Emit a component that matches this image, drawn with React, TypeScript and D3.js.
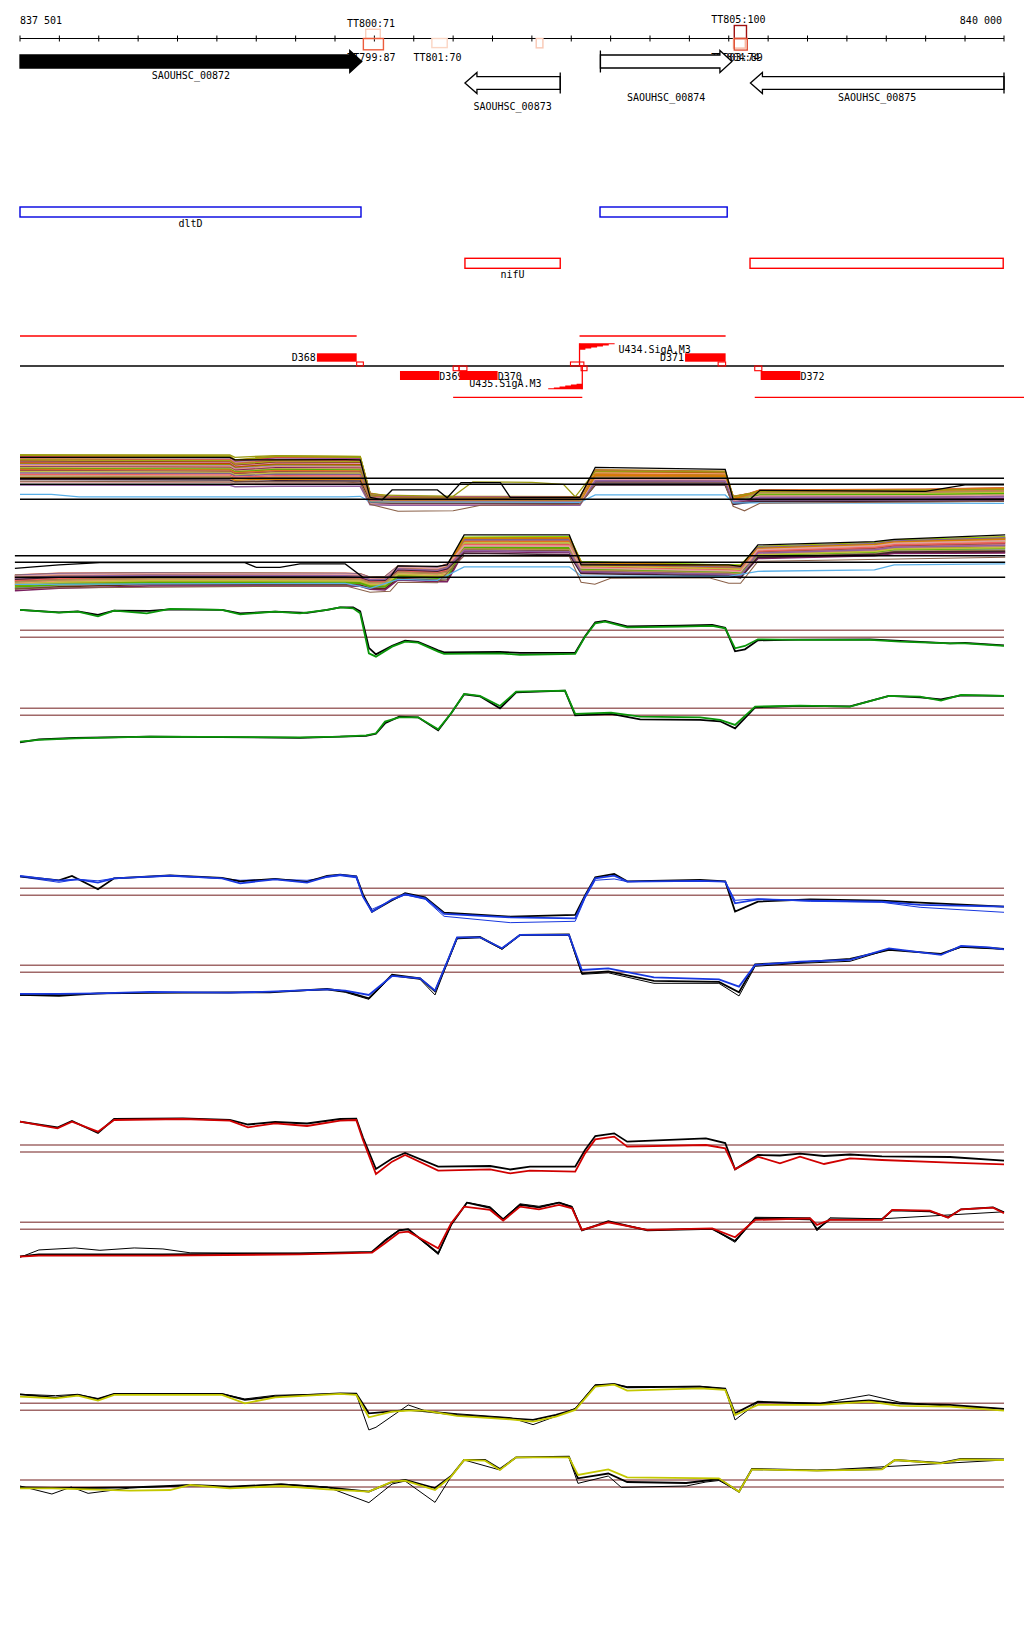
import React from 'react';
import * as d3 from 'd3';

// ================= DATA =================
// genomic window
const REGION_START = 837501;
const REGION_END = 840000;
const TICK_STEP = 100;
const AXIS_LABELS = ['837 501', '840 000'];

// genes (positions are bp offsets from REGION_START)
const GENE_NAMES = ['SAOUHSC_00872', 'SAOUHSC_00873', 'SAOUHSC_00874', 'SAOUHSC_00875'];
const GENE_START = [0, 1130, 1474, 1855];
const GENE_END = [868, 1372, 1808, 2499];
const GENE_STRAND = [1, -1, 1, -1];
const GENE_FILLED = [true, false, false, false];

// terminators
const TERM_NAMES = ['TT800:71', 'TT805:100', 'TT799:87', 'TT801:70', '', 'TT803:74', 'TT804:89'];
const TERM_START = [878, 1814, 872, 1046, 1311, 1812, 1814];
const TERM_END = [915, 1845, 923, 1085, 1328, 1842, 1847];
const TERM_SCORE = [71, 100, 87, 70, 72, 74, 89];
const TERM_SIDE = ['up', 'up', 'down', 'down', 'down', 'down', 'down'];

// annotated features
const BLUE_NAMES = ['dltD', ''];
const BLUE_START = [0, 1473];
const BLUE_END = [866, 1796];
const RED_NAMES = ['nifU', ''];
const RED_START = [1130, 1854];
const RED_END = [1372, 2497];

// transcription units / downstream features / promoters
const TU_START = [0, 1421, 1100, 1866];
const TU_END = [855, 1792, 1428, 2560];
const TU_STRAND = [1, 1, -1, -1];
const DF_NAMES = ['D368', 'D371', 'D369', 'D370', 'D372'];
const DF_START = [754, 1689, 965, 1116, 1881];
const DF_END = [855, 1792, 1065, 1213, 1982];
const DF_STRAND = [1, 1, -1, -1, -1];
const SITE_START = [855, 1398, 1773, 1100, 1115, 1425, 1866];
const SITE_END = [872, 1432, 1792, 1115, 1135, 1440, 1884];
const SITE_STRAND = [1, 1, 1, -1, -1, -1, -1];
const PROM_NAMES = ['U434.SigA.M3', 'U435.SigA.M3'];
const PROM_POS = [1421, 1428];
const PROM_LEN = [104, 101];
const PROM_STRAND = [1, -1];

// multi-condition bundles (envelope of the coloured profiles at shared positions)
const BUNDLE1_POS = [0, 533, 546, 650, 864, 889, 940, 1422, 1461, 1791, 1811, 1854, 1879, 2300, 2499];
const BUNDLE1_HI = [10.87, 10.67, 9.87, 10.67, 10.53, 3.2, 2.6, 2.5, 7.9, 7.6, 2.6, 3.2, 3.87, 4.0, 4.3];
const BUNDLE1_LO = [4.87, 4.8, 4.53, 4.6, 4.6, 0.9, 0.8, 0.8, 4.5, 4.53, 0.8, 1.2, 1.3, 1.3, 1.3];
const BUNDLE1_SEG = [0, 0, 0, 0, 0, 0, 0, 0, 1, 1, 1, 2, 2, 2, 2];
const BUNDLE2_POS = [-13, 99, 330, 826, 864, 889, 927, 960, 1060, 1085, 1128, 1395, 1425, 1800, 1830, 1874, 2170, 2220, 2502];
const BUNDLE2_HI = [2.47, 2.8, 2.93, 2.8, 2.7, 2.0, 2.13, 4.27, 4.0, 4.67, 10.0, 10.13, 5.13, 4.47, 4.47, 8.13, 8.93, 9.47, 10.13];
const BUNDLE2_LO = [-0.67, -0.2, 0.27, 0.27, 0.2, -0.4, -0.53, 1.47, 1.13, 1.13, 6.47, 6.13, 2.47, 2.0, 1.6, 5.47, 6.0, 6.47, 6.47];
const BUNDLE2_SEG = [0, 0, 0, 0, 0, 0, 0, 0, 0, 0, 1, 1, 1, 1, 1, 2, 2, 2, 2];
const BUNDLE_COLORS = ['#a8a000', '#c08a20', '#70c000', '#e0602a', '#a01a80', '#a898d0', '#c8a060', '#e05050', '#b07830', '#8ed000',
  '#d07040', '#603010', '#e090b0', '#c04000', '#909000', '#b080c0', '#f0a070', '#7a2060', '#d0b060', '#50b000',
  '#e07020', '#a05040', '#c0c040', '#806090', '#f06060', '#b09050', '#d08000', '#402030', '#e0a0a0', '#9060a0'];
// relative position of each condition inside the bundle, per plateau (left / middle / right)
const BUNDLE1_RANKS = [
  [1.0, 0.98, 0.96, 0.94, 0.92, 0.9, 0.88, 0.86, 0.84, 0.82, 0.8, 0.78, 0.76, 0.73, 0.7, 0.67, 0.64, 0.61, 0.58, 0.55, 0.52, 0.48, 0.44, 0.4, 0.35, 0.3, 0.24, 0.18, 0.1, 0.0],
  [0.9, 1.0, 0.84, 0.96, 0.7, 0.86, 0.94, 0.6, 0.98, 0.78, 0.92, 0.3, 0.8, 0.88, 0.76, 0.55, 0.82, 0.5, 0.66, 0.72, 0.74, 0.4, 0.62, 0.2, 0.64, 0.58, 0.68, 0.1, 0.45, 0.35],
  [0.7, 0.95, 0.6, 1.0, 0.3, 0.5, 0.85, 0.75, 0.9, 0.65, 0.98, 0.2, 0.4, 0.92, 0.55, 0.35, 0.88, 0.25, 0.8, 0.62, 0.96, 0.45, 0.72, 0.15, 0.82, 0.78, 0.93, 0.1, 0.52, 0.42],
];
const BUNDLE2_RANKS = [
  [0.52, 0.9, 0.3, 1.0, 0.76, 0.18, 0.64, 0.86, 0.44, 0.96, 0.7, 0.1, 0.82, 0.58, 0.35, 0.94, 0.48, 0.0, 0.78, 0.24, 0.88, 0.61, 0.4, 0.98, 0.67, 0.55, 0.84, 0.73, 0.92, 0.8],
  [0.95, 0.88, 0.98, 0.7, 0.6, 0.5, 0.9, 0.8, 0.75, 1.0, 0.85, 0.3, 0.65, 0.92, 0.4, 0.82, 0.55, 0.2, 0.72, 0.45, 0.78, 0.62, 0.68, 0.86, 0.58, 0.35, 0.94, 0.1, 0.52, 0.25],
  [0.85, 1.0, 0.75, 0.95, 0.55, 0.3, 0.9, 0.65, 0.8, 0.98, 0.7, 0.15, 0.6, 0.88, 0.45, 0.92, 0.5, 0.1, 0.72, 0.35, 0.82, 0.62, 0.4, 0.93, 0.68, 0.25, 0.87, 0.2, 0.78, 0.52],
];

const BUNDLE1_BLACK = [[0, 10.4], [533, 10.4], [546, 9.87], [826, 9.93], [864, 9.9], [889, 2.4], [920, 1.9], [945, 3.87], [1060, 3.87], [1085, 2.3], [1120, 5.33], [1220, 5.33], [1245, 2.4], [1422, 2.4], [1461, 8.4], [1791, 8.0], [1811, 2.0], [1854, 2.0], [1879, 3.8], [2300, 3.6], [2400, 4.9], [2499, 4.9]];
const BUNDLE1_OLIVE = [[0, 10.87], [533, 10.87], [546, 10.4], [650, 10.75], [864, 10.6], [889, 2.9], [1100, 2.6], [1150, 5.5], [1300, 5.4], [1380, 5.0], [1410, 2.5], [1461, 7.6], [1791, 7.5], [1811, 2.5], [1879, 3.6], [2499, 4.0]];
const BUNDLE1_BROWN = [[0, 5.6], [826, 5.4], [864, 5.3], [889, 1.0], [960, -0.4], [1100, -0.3], [1170, 0.8], [1422, 1.0], [1461, 5.0], [1791, 5.0], [1811, 0.6], [1840, -0.3], [1879, 1.2], [2499, 1.6]];
const BUNDLE1_SKY = [[0, 3.0], [80, 3.0], [150, 2.5], [826, 2.5], [864, 2.6], [889, 1.5], [1422, 1.4], [1461, 2.87], [1791, 2.87], [1811, 1.3], [1879, 1.3], [2499, 1.2]];
const BUNDLE2_BLACK = [[-13, 3.8], [99, 4.47], [203, 4.93], [571, 4.93], [600, 4.0], [660, 4.0], [711, 4.67], [826, 4.67], [871, 2.0], [940, 2.0], [960, 4.3], [1060, 4.2], [1085, 4.5], [1128, 10.47], [1395, 10.47], [1425, 4.5], [1800, 4.47], [1830, 4.2], [1874, 8.47], [2170, 9.13], [2220, 9.6], [2502, 10.47]];
const BUNDLE2_SKY = [[-13, 0.6], [826, 0.8], [889, -0.2], [960, 1.6], [1060, 1.4], [1128, 4.1], [1395, 4.1], [1425, 2.3], [1800, 2.2], [1874, 3.2], [2170, 3.47], [2220, 4.5], [2502, 4.67]];
const BUNDLE2_BROWN = [[-13, -0.2], [826, 0.3], [889, -1.0], [940, -0.8], [960, 1.0], [1060, 0.9], [1128, 6.3], [1395, 6.2], [1425, 1.0], [1460, 0.6], [1500, 1.8], [1750, 1.9], [1800, 0.8], [1830, 0.8], [1874, 5.2], [2502, 6.0]];

// single-condition signal tracks [bp offset, value]
const GREEN_A = [[0, 12.07], [99, 11.53], [147, 11.73], [198, 10.8], [239, 11.93], [322, 11.4], [381, 12.27], [513, 12.07], [559, 11.2], [648, 11.73], [711, 11.4], [780, 12.07], [813, 12.6], [846, 12.4], [864, 11.4], [886, 3.4], [904, 2.73], [945, 4.73], [978, 5.73], [1011, 5.53], [1062, 3.73], [1077, 3.27], [1219, 3.4], [1270, 3.07], [1410, 3.27], [1435, 6.73], [1461, 9.4], [1486, 9.73], [1542, 8.6], [1676, 8.73], [1758, 8.87], [1791, 8.4], [1816, 4.4], [1841, 4.87], [1874, 6.2], [1981, 6.07], [2159, 6.07], [2235, 5.73], [2362, 5.4], [2400, 5.4], [2499, 4.87]];
const GREEN_A_BLACK = [[0, 12.07], [99, 11.6], [147, 11.8], [198, 11.1], [239, 11.93], [330, 11.9], [381, 12.2], [513, 12.07], [559, 11.4], [648, 11.73], [729, 11.5], [780, 12.07], [813, 12.6], [846, 12.6], [864, 11.8], [886, 4.5], [904, 3.2], [945, 4.9], [978, 5.93], [1011, 5.7], [1062, 4.0], [1077, 3.6], [1219, 3.67], [1270, 3.5], [1410, 3.5], [1435, 6.8], [1461, 9.6], [1486, 9.9], [1542, 8.8], [1676, 8.93], [1758, 9.07], [1791, 8.5], [1816, 3.8], [1841, 4.2], [1874, 6.0], [1981, 6.13], [2159, 6.2], [2235, 5.9], [2362, 5.4], [2400, 5.5], [2499, 5.0]];
const GREEN_B = [[0, 1.33], [48, 1.67], [140, 2.0], [330, 2.33], [711, 2.2], [813, 2.33], [879, 2.6], [904, 3.0], [927, 5.33], [963, 6.2], [1011, 6.2], [1062, 3.8], [1095, 7.0], [1128, 10.87], [1168, 10.47], [1219, 8.47], [1260, 11.33], [1384, 11.53], [1410, 6.87], [1501, 7.13], [1575, 6.33], [1727, 6.2], [1778, 5.67], [1816, 4.67], [1867, 8.33], [1981, 8.53], [2108, 8.33], [2207, 10.47], [2286, 10.33], [2339, 9.53], [2390, 10.67], [2499, 10.47]];
const GREEN_B_BLACK = [[0, 1.2], [48, 1.8], [140, 2.07], [330, 2.33], [711, 2.1], [813, 2.33], [879, 2.5], [904, 2.9], [927, 5.0], [963, 6.33], [1011, 6.2], [1062, 3.6], [1095, 7.0], [1128, 10.8], [1168, 10.4], [1219, 8.0], [1260, 11.2], [1384, 11.53], [1410, 6.6], [1501, 6.87], [1575, 5.8], [1727, 5.67], [1778, 5.4], [1816, 4.0], [1867, 8.2], [1981, 8.5], [2108, 8.4], [2207, 10.47], [2286, 10.2], [2339, 9.8], [2390, 10.6], [2499, 10.5]];
const BLUE_A = [[0, 10.47], [99, 9.53], [147, 9.8], [198, 9.13], [239, 10.0], [381, 10.53], [513, 10.0], [559, 9.0], [648, 9.8], [729, 9.13], [780, 10.33], [813, 10.67], [854, 10.33], [871, 6.33], [894, 3.33], [945, 5.8], [978, 6.8], [1029, 6.0], [1077, 2.87], [1245, 2.2], [1410, 2.0], [1435, 6.33], [1461, 10.0], [1509, 10.53], [1542, 9.33], [1727, 9.47], [1791, 9.33], [1816, 5.0], [1874, 5.8], [2007, 5.53], [2189, 5.33], [2286, 4.67], [2499, 4.33]];
const BLUE_A_BLACK = [[0, 10.4], [99, 9.6], [132, 10.47], [198, 7.8], [239, 10.0], [381, 10.6], [513, 10.1], [559, 9.4], [648, 9.9], [729, 9.3], [780, 10.5], [813, 10.73], [854, 10.4], [871, 6.8], [894, 3.33], [945, 5.6], [978, 7.0], [1029, 6.2], [1077, 3.13], [1245, 2.33], [1410, 2.67], [1435, 6.6], [1461, 10.2], [1509, 10.87], [1542, 9.4], [1727, 9.67], [1791, 9.4], [1816, 3.33], [1874, 5.33], [2007, 5.8], [2189, 5.53], [2286, 5.13], [2499, 4.33]];
const BLUE_A_THIN = [[0, 10.3], [99, 9.2], [147, 9.8], [198, 9.5], [239, 10.0], [381, 10.4], [513, 10.0], [559, 9.6], [648, 9.8], [729, 9.6], [780, 10.2], [813, 10.53], [854, 10.1], [871, 6.5], [894, 3.8], [945, 5.6], [978, 6.7], [1029, 5.8], [1077, 2.4], [1245, 1.13], [1410, 1.4], [1435, 6.0], [1461, 9.6], [1509, 9.87], [1542, 9.33], [1727, 9.47], [1791, 9.33], [1816, 5.6], [1874, 5.9], [2007, 5.4], [2189, 5.2], [2286, 4.2], [2499, 3.2]];
const BLUE_B = [[0, 2.27], [99, 2.27], [198, 2.4], [330, 2.67], [533, 2.53], [635, 2.73], [780, 3.2], [826, 2.93], [886, 2.07], [945, 5.87], [1016, 5.4], [1054, 2.93], [1087, 9.07], [1110, 13.6], [1168, 13.6], [1224, 11.4], [1270, 14.07], [1394, 14.07], [1427, 7.07], [1494, 7.4], [1610, 5.6], [1775, 5.2], [1826, 3.73], [1867, 8.07], [1981, 8.73], [2108, 9.07], [2207, 11.4], [2339, 10.07], [2390, 11.87], [2461, 11.6], [2499, 11.2]];
const BLUE_B_BLACK = [[0, 2.07], [99, 1.9], [198, 2.4], [330, 2.5], [533, 2.6], [635, 2.6], [780, 3.3], [826, 2.8], [886, 1.4], [945, 6.1], [1016, 5.4], [1054, 2.8], [1087, 9.0], [1110, 13.5], [1168, 13.7], [1224, 11.3], [1270, 14.1], [1394, 14.2], [1427, 6.4], [1494, 6.8], [1610, 4.87], [1775, 4.67], [1826, 2.6], [1867, 8.2], [1981, 8.6], [2108, 9.3], [2207, 11.1], [2339, 10.3], [2390, 11.73], [2461, 11.47], [2499, 11.3]];
const BLUE_B_THIN = [[0, 2.0], [99, 2.2], [198, 2.3], [330, 2.6], [533, 2.5], [635, 2.7], [780, 3.1], [826, 2.6], [886, 1.2], [945, 5.9], [1016, 5.2], [1054, 2.07], [1087, 8.8], [1110, 13.3], [1168, 13.5], [1224, 11.2], [1270, 14.0], [1394, 14.0], [1427, 6.2], [1494, 6.5], [1610, 4.4], [1775, 4.4], [1826, 1.87], [1867, 7.8], [1981, 8.4], [2108, 8.8], [2207, 11.2], [2339, 10.2], [2390, 11.6], [2499, 11.2]];
const RED_A = [[0, 12.67], [95, 11.33], [132, 12.67], [198, 10.67], [239, 13.0], [414, 13.2], [533, 12.87], [579, 11.53], [648, 12.33], [729, 11.8], [813, 12.87], [854, 13.0], [871, 9.0], [904, 2.2], [945, 4.67], [978, 6.0], [1062, 2.87], [1194, 3.13], [1245, 2.33], [1295, 2.87], [1410, 2.67], [1435, 6.33], [1461, 9.13], [1509, 9.67], [1542, 7.67], [1742, 8.0], [1791, 7.33], [1816, 3.13], [1874, 5.67], [1930, 4.33], [1981, 5.67], [2042, 4.2], [2108, 5.33], [2189, 5.0], [2362, 4.47], [2499, 4.13]];
const RED_A_BLACK = [[0, 12.67], [95, 11.5], [132, 12.8], [198, 10.4], [239, 13.2], [414, 13.33], [533, 13.0], [579, 12.1], [648, 12.6], [729, 12.3], [813, 13.2], [854, 13.27], [871, 9.5], [904, 3.2], [945, 5.3], [978, 6.4], [1062, 3.67], [1194, 3.8], [1245, 3.1], [1295, 3.67], [1410, 3.67], [1435, 7.0], [1461, 9.8], [1509, 10.33], [1542, 8.67], [1742, 9.33], [1791, 8.4], [1816, 3.13], [1874, 6.0], [1930, 5.9], [1981, 6.27], [2042, 5.8], [2108, 6.1], [2189, 5.73], [2362, 5.6], [2499, 4.87]];
const RED_B = [[0, 1.13], [48, 1.33], [363, 1.33], [711, 1.6], [894, 1.93], [927, 3.8], [963, 5.93], [986, 6.13], [1062, 2.8], [1095, 7.8], [1128, 11.13], [1194, 10.47], [1227, 8.33], [1270, 11.13], [1318, 10.6], [1369, 11.47], [1402, 10.8], [1427, 6.47], [1494, 8.0], [1593, 6.47], [1758, 6.8], [1816, 5.0], [1867, 8.47], [2007, 8.8], [2024, 7.47], [2057, 8.47], [2189, 8.47], [2215, 10.47], [2311, 10.33], [2357, 8.93], [2390, 10.6], [2471, 10.93], [2499, 9.8]];
const RED_B_BLACK = [[0, 1.2], [48, 1.6], [363, 1.6], [711, 1.8], [894, 2.1], [927, 4.3], [963, 6.4], [986, 6.6], [1062, 1.8], [1095, 7.5], [1135, 11.93], [1194, 10.9], [1227, 8.6], [1270, 11.5], [1318, 11.0], [1369, 11.93], [1402, 11.0], [1427, 6.4], [1494, 8.2], [1593, 6.4], [1758, 6.67], [1816, 4.27], [1867, 8.8], [2007, 8.6], [2024, 6.6], [2057, 8.6], [2189, 8.6], [2215, 10.4], [2311, 10.2], [2357, 9.0], [2390, 10.6], [2471, 11.0], [2499, 10.0]];
const RED_B_THIN = [[0, 1.0], [48, 2.47], [140, 2.87], [203, 2.4], [290, 2.87], [363, 2.67], [432, 1.9], [711, 1.8], [894, 2.0], [927, 4.5], [963, 6.5], [986, 6.6], [1062, 1.6], [1095, 7.5], [1135, 12.0], [1194, 11.1], [1227, 8.7], [1270, 11.7], [1318, 11.2], [1369, 12.0], [1402, 11.2], [1427, 6.4], [1494, 8.1], [1593, 6.5], [1758, 6.7], [1816, 4.0], [1867, 9.0], [2007, 8.9], [2024, 6.3], [2057, 8.9], [2189, 8.7], [2499, 10.1]];
const YELLOW_A = [[0, 9.33], [90, 9.0], [147, 9.53], [198, 8.53], [239, 9.67], [513, 9.67], [571, 8.0], [648, 9.2], [813, 9.87], [854, 9.67], [886, 5.2], [945, 6.33], [986, 6.53], [1029, 6.53], [1110, 5.47], [1245, 4.8], [1303, 4.33], [1361, 5.33], [1410, 6.67], [1461, 11.33], [1509, 11.73], [1542, 10.53], [1727, 11.0], [1791, 10.67], [1816, 5.67], [1874, 7.67], [2032, 7.67], [2156, 8.33], [2235, 7.47], [2362, 7.33], [2499, 6.53]];
const YELLOW_A_BLACK = [[0, 9.8], [90, 9.13], [147, 9.67], [198, 8.87], [239, 9.87], [513, 9.87], [571, 8.67], [648, 9.4], [813, 10.0], [854, 9.93], [886, 6.0], [945, 6.4], [986, 6.67], [1029, 6.4], [1110, 5.7], [1245, 5.0], [1303, 4.67], [1361, 5.67], [1410, 6.8], [1461, 11.6], [1509, 11.87], [1542, 11.2], [1727, 11.33], [1791, 10.93], [1816, 6.0], [1874, 8.33], [2032, 7.93], [2156, 8.6], [2235, 7.93], [2362, 7.67], [2499, 6.87]];
const YELLOW_A_THIN = [[0, 9.8], [90, 9.53], [147, 9.8], [198, 8.87], [239, 9.87], [513, 9.9], [571, 8.87], [648, 9.6], [813, 9.9], [854, 9.8], [886, 2.67], [904, 3.2], [986, 7.67], [1029, 6.5], [1110, 5.9], [1245, 5.13], [1303, 3.73], [1361, 5.4], [1410, 7.0], [1461, 11.7], [1509, 11.8], [1542, 11.33], [1727, 11.4], [1791, 10.9], [1816, 4.67], [1874, 8.2], [2032, 8.0], [2156, 9.67], [2235, 8.2], [2362, 7.4], [2499, 6.9]];
const YELLOW_B = [[0, 6.33], [81, 6.33], [173, 6.13], [279, 5.87], [381, 6.0], [432, 7.0], [533, 6.33], [663, 6.8], [780, 6.13], [886, 5.67], [945, 7.67], [978, 7.87], [1054, 6.0], [1095, 8.67], [1128, 12.0], [1181, 11.87], [1219, 10.0], [1260, 12.53], [1394, 12.53], [1417, 9.0], [1494, 10.13], [1542, 8.53], [1775, 8.33], [1826, 5.67], [1859, 10.13], [2024, 9.87], [2189, 10.13], [2222, 12.0], [2339, 11.33], [2390, 12.13], [2499, 12.0]];
const YELLOW_B_BLACK = [[0, 6.53], [81, 6.4], [173, 6.4], [279, 6.53], [381, 6.8], [432, 7.0], [533, 6.67], [663, 7.13], [780, 6.53], [886, 5.67], [945, 7.6], [978, 8.0], [1054, 6.4], [1095, 8.8], [1128, 12.0], [1181, 12.0], [1219, 10.2], [1260, 12.53], [1394, 12.67], [1417, 8.33], [1494, 9.3], [1542, 7.6], [1692, 7.4], [1775, 8.2], [1826, 5.67], [1859, 10.2], [2024, 9.93], [2189, 10.2], [2222, 12.0], [2339, 11.4], [2390, 12.2], [2499, 12.1]];
const YELLOW_B_THIN = [[0, 6.8], [81, 5.2], [130, 6.6], [173, 5.33], [279, 6.4], [432, 6.9], [533, 6.6], [663, 7.2], [780, 6.6], [886, 3.47], [945, 7.2], [978, 7.8], [1054, 3.53], [1095, 8.7], [1128, 12.0], [1219, 10.0], [1260, 12.5], [1394, 12.5], [1417, 7.33], [1494, 8.8], [1527, 6.53], [1692, 6.8], [1742, 7.6], [1775, 7.9], [1826, 5.67], [1859, 10.1], [2024, 9.9], [2499, 12.0]];

const SIGNAL_REF_VALUES = [8, 6.6];
const BUNDLE1_REF_VALUES = [6.2, 5.0, 2.0];
const BUNDLE2_REF_VALUES = [6.3, 5.0, 2.0];

// ================= LAYOUT / STYLE =================
const W = 1024;
const H = 1640;
const X0 = 20;
const X1 = 1004;
const AXIS_Y = 38.5;
const FONT = '"DejaVu Sans Mono", "Liberation Mono", monospace';
const GENE_LABEL_Y = [79, 110, 101, 101];
const REF_COLOR = '#a06868';

const SIGNAL_PANELS = [
  { top: 630.3, color: '#0a960a', main: GREEN_A, black: GREEN_A_BLACK, thin: null, thinColor: '#0a960a' },
  { top: 708.3, color: '#0a960a', main: GREEN_B, black: GREEN_B_BLACK, thin: null, thinColor: '#0a960a' },
  { top: 888.3, color: '#1838e0', main: BLUE_A, black: BLUE_A_BLACK, thin: BLUE_A_THIN, thinColor: '#1838e0' },
  { top: 965.3, color: '#1838e0', main: BLUE_B, black: BLUE_B_BLACK, thin: BLUE_B_THIN, thinColor: '#000' },
  { top: 1145, color: '#d00000', main: RED_A, black: RED_A_BLACK, thin: null, thinColor: '#d00000' },
  { top: 1222.3, color: '#d00000', main: RED_B, black: RED_B_BLACK, thin: RED_B_THIN, thinColor: '#000' },
  { top: 1403.3, color: '#c4c800', main: YELLOW_A, black: YELLOW_A_BLACK, thin: YELLOW_A_THIN, thinColor: '#000' },
  { top: 1480, color: '#c4c800', main: YELLOW_B, black: YELLOW_B_BLACK, thin: YELLOW_B_THIN, thinColor: '#000' },
];

export default function App() {
  const span = REGION_END - REGION_START;
  const xs = d3.scaleLinear().domain([0, span]).range([X0, X1]);
  const ticks = d3.range(0, span, TICK_STEP).concat([span]);
  const termColor = d3.scaleLinear<string>().domain([70, 87, 100]).range(['#fbd6c4', '#ec5c3c', '#a01010']);

  const mkLine = (ys: any) => d3.line<any>().x((d: any) => xs(d[0])).y((d: any) => ys(d[1]));

  // gene arrows
  const genes = GENE_NAMES.map((name, i) => {
    const fwd = GENE_STRAND[i] > 0;
    const yc = fwd ? 61.5 : 83;
    const bh = fwd ? 6.5 : 6.3;
    const hh = fwd ? 11 : 10.5;
    const a = xs(GENE_START[i]);
    const b = xs(GENE_END[i]);
    const hl = 12;
    let pts: number[][];
    let tail: number;
    if (fwd) {
      const hx = b - hl;
      pts = [[a, yc - bh], [hx, yc - bh], [hx, yc - hh], [b, yc], [hx, yc + hh], [hx, yc + bh], [a, yc + bh]];
      tail = a;
    } else {
      const hx = a + hl;
      pts = [[b, yc - bh], [hx, yc - bh], [hx, yc - hh], [a, yc], [hx, yc + hh], [hx, yc + bh], [b, yc + bh]];
      tail = b;
    }
    return (
      <g key={name}>
        <polygon points={pts.map(p => p.join(',')).join(' ')} fill={GENE_FILLED[i] ? '#000' : '#fff'} stroke="#000" strokeWidth={1.3} />
        {!GENE_FILLED[i] && <line x1={tail} x2={tail} y1={yc - hh} y2={yc + hh} stroke="#000" strokeWidth={1.3} />}
        <text x={(a + b) / 2} y={GENE_LABEL_Y[i]} textAnchor="middle" fontFamily={FONT} fontSize={10}>{name}</text>
      </g>
    );
  });

  // terminators
  const terms = TERM_NAMES.map((name, i) => {
    const h = TERM_SCORE[i] * 0.13;
    const a = xs(TERM_START[i]);
    const b = xs(TERM_END[i]);
    const up = TERM_SIDE[i] === 'up';
    const y = up ? AXIS_Y - h : AXIS_Y;
    return (
      <g key={'t' + i}>
        <rect x={a} y={y} width={b - a} height={h} fill="none" stroke={termColor(TERM_SCORE[i])} strokeWidth={1.4} />
        {name && (
          <text x={(a + b) / 2 - 2 + (name === 'TT803:74' ? -2 : 0)} y={up ? y - 2.5 : 60.5} textAnchor="middle" fontFamily={FONT} fontSize={10}>{name}</text>
        )}
      </g>
    );
  });

  const featureBoxes = (names: string[], st: number[], en: number[], y: number, color: string, labelY: number) =>
    names.map((n, i) => (
      <g key={color + i}>
        <rect x={xs(st[i])} y={y} width={xs(en[i]) - xs(st[i])} height={10} fill="none" stroke={color} strokeWidth={1.4} />
        {n && <text x={(xs(st[i]) + xs(en[i])) / 2} y={labelY} textAnchor="middle" fontFamily={FONT} fontSize={10}>{n}</text>}
      </g>
    ));

  // TU track
  const BASE = 366;
  const tu = (
    <g>
      {TU_START.map((s, i) => (
        <line key={'tu' + i} x1={xs(s)} x2={xs(TU_END[i])} y1={TU_STRAND[i] > 0 ? 336 : 397.3} y2={TU_STRAND[i] > 0 ? 336 : 397.3} stroke="#ff0000" strokeWidth={1.3} />
      ))}
      <line x1={X0} x2={X1} y1={BASE} y2={BASE} stroke="#000" strokeWidth={1.3} />
      {PROM_NAMES.map((n, i) => {
        const p = xs(PROM_POS[i]);
        const fwd = PROM_STRAND[i] > 0;
        const q = xs(PROM_POS[i] + (fwd ? PROM_LEN[i] : -PROM_LEN[i]));
        const ty = fwd ? 343.3 : 389.3;
        const hy = fwd ? 350.7 : 382.7;
        const steps = 7;
        const pts: number[][] = [[p, ty], [q, ty]];
        for (let k = 0; k <= steps; k++) {
          const xk = q + (p - q) * (k / steps);
          const prev = ty + (hy - ty) * (Math.max(0, k - 1) / steps);
          const yk = ty + (hy - ty) * (k / steps);
          pts.push([xk, prev]);
          pts.push([xk, yk]);
        }
        return (
          <g key={n}>
            <line x1={p} x2={p} y1={BASE} y2={ty} stroke="#ff0000" strokeWidth={1.3} />
            <polygon points={pts.map(pt => pt.join(',')).join(' ')} fill="#ff0000" />
            <text x={fwd ? q - 2 : q - 1} y={fwd ? 353 : 387} textAnchor={fwd ? 'start' : 'end'} fontFamily={FONT} fontSize={10}>{n}</text>
          </g>
        );
      })}
      {DF_NAMES.map((n, i) => {
        const fwd = DF_STRAND[i] > 0;
        const a = xs(DF_START[i]);
        const b = xs(DF_END[i]);
        return (
          <g key={n}>
            <rect x={a} y={fwd ? 353.3 : 371} width={b - a} height={fwd ? 8.4 : 9} fill="#ff0000" />
            <text x={fwd ? a - 1 : b} y={fwd ? 361 : 380} textAnchor={fwd ? 'end' : 'start'} fontFamily={FONT} fontSize={10}>{n}</text>
          </g>
        );
      })}
      {SITE_START.map((s, i) => {
        const fwd = SITE_STRAND[i] > 0;
        return <rect key={'s' + i} x={xs(s)} y={fwd ? 362 : 366} width={xs(SITE_END[i]) - xs(s)} height={fwd ? 4 : 4.7} fill="none" stroke="#ff0000" strokeWidth={1.1} />;
      })}
    </g>
  );

  // bundles
  const bundle = (pos: number[], hi: number[], lo: number[], seg: number[], ranks: number[][], ys: any, specials: any[], refs: number[], xr: number[]) => {
    const line = mkLine(ys);
    return (
      <g>
        {BUNDLE_COLORS.map((c, i) => {
          const pts = pos.map((p, k) => [p, lo[k] + ranks[seg[k]][i] * (hi[k] - lo[k])]);
          return <path key={c + i} d={line(pts) as string} fill="none" stroke={c} strokeWidth={1.5} />;
        })}
        {specials.map((s, i) => (
          <path key={'sp' + i} d={line(s.data) as string} fill="none" stroke={s.color} strokeWidth={s.w} />
        ))}
        {refs.map((r, i) => (
          <line key={'r' + i} x1={xs(xr[0])} x2={xs(xr[1])} y1={ys(r)} y2={ys(r)} stroke="#000" strokeWidth={1.4} />
        ))}
      </g>
    );
  };

  const ys1 = d3.scaleLinear().domain([2, 6.2]).range([499.3, 478.3]);
  const ys2 = d3.scaleLinear().domain([2, 6.3]).range([577.3, 555.8]);

  const signals = SIGNAL_PANELS.map((p, i) => {
    const ys = d3.scaleLinear().domain([0, 8]).range([p.top + 40, p.top]);
    const line = mkLine(ys);
    return (
      <g key={'sig' + i}>
        {SIGNAL_REF_VALUES.map((r, k) => (
          <line key={k} x1={X0} x2={X1} y1={ys(r)} y2={ys(r)} stroke={REF_COLOR} strokeWidth={1.4} />
        ))}
        {p.thin && <path d={line(p.thin) as string} fill="none" stroke={p.thinColor} strokeWidth={1} />}
        <path d={line(p.black) as string} fill="none" stroke="#000" strokeWidth={1.8} />
        <path d={line(p.main) as string} fill="none" stroke={p.color} strokeWidth={1.8} />
      </g>
    );
  });

  return (
    <div style={{ position: 'absolute', left: 0, top: 0 }}>
      <svg width={W} height={H} viewBox={`0 0 ${W} ${H}`} style={{ display: 'block', background: '#fff' }}>
        <rect x={0} y={0} width={W} height={H} fill="#fff" />
        {/* axis */}
        <line x1={X0} x2={X1} y1={AXIS_Y} y2={AXIS_Y} stroke="#000" strokeWidth={1.2} />
        {ticks.map(t => (
          <line key={'tk' + t} x1={xs(t)} x2={xs(t)} y1={AXIS_Y - 3} y2={AXIS_Y + 3} stroke="#000" strokeWidth={1} />
        ))}
        <text x={X0} y={24} fontFamily={FONT} fontSize={10}>{AXIS_LABELS[0]}</text>
        <text x={X1 - 2} y={24} textAnchor="end" fontFamily={FONT} fontSize={10}>{AXIS_LABELS[1]}</text>
        {terms}
        {genes}
        {featureBoxes(BLUE_NAMES, BLUE_START, BLUE_END, 207, '#0000e0', 227)}
        {featureBoxes(RED_NAMES, RED_START, RED_END, 258.3, '#ff0000', 278)}
        {tu}
        {bundle(BUNDLE1_POS, BUNDLE1_HI, BUNDLE1_LO, BUNDLE1_SEG, BUNDLE1_RANKS, ys1, [
          { data: BUNDLE1_SKY, color: '#5ab0e8', w: 1.3 },
          { data: BUNDLE1_BROWN, color: '#8a6048', w: 1.1 },
          { data: BUNDLE1_OLIVE, color: '#9a9a10', w: 1.3 },
          { data: BUNDLE1_BLACK, color: '#000', w: 1.3 },
        ], BUNDLE1_REF_VALUES, [0, span])}
        {bundle(BUNDLE2_POS, BUNDLE2_HI, BUNDLE2_LO, BUNDLE2_SEG, BUNDLE2_RANKS, ys2, [
          { data: BUNDLE2_SKY, color: '#5ab0e8', w: 1.3 },
          { data: BUNDLE2_BROWN, color: '#8a6048', w: 1.1 },
          { data: BUNDLE2_BLACK, color: '#000', w: 1.3 },
        ], BUNDLE2_REF_VALUES, [-13, span + 3])}
        {signals}
      </svg>
    </div>
  );
}
